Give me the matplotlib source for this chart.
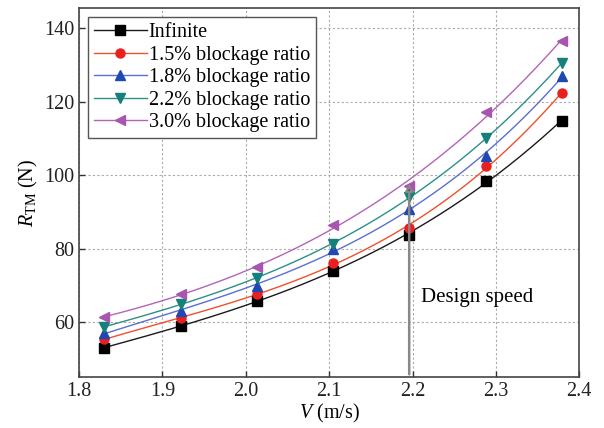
import numpy as np
import matplotlib.pyplot as plt

plt.rcParams['font.family'] = ['Liberation Serif', 'DejaVu Serif']
plt.rcParams['mathtext.fontset'] = 'custom'
plt.rcParams['mathtext.rm'] = 'Liberation Serif'
plt.rcParams['mathtext.it'] = 'Liberation Serif:italic'

# towing speed (m/s) and total resistance RTM (N)
speed = [1.830, 1.922, 2.013, 2.105, 2.196, 2.288, 2.379]
r_infinite = [53.0, 58.8, 65.8, 74.0, 83.6, 98.5, 114.8]
r_15 = [55.3, 61.0, 67.7, 76.0, 85.5, 102.6, 122.3]
r_18 = [57.0, 63.0, 69.8, 80.0, 90.9, 105.2, 127.0]
r_22 = [58.6, 65.0, 72.0, 81.3, 94.0, 110.0, 130.5]
r_30 = [61.3, 67.6, 75.0, 86.3, 97.0, 117.3, 136.5]

labels = ['Infinite', '1.5% blockage ratio', '1.8% blockage ratio',
          '2.2% blockage ratio', '3.0% blockage ratio']
series = [r_infinite, r_15, r_18, r_22, r_30]
line_cols = ['#1a1a1a', '#f0502a', '#5a6fd0', '#2a9088', '#b464b8']
mark_cols = ['#000000', '#e82020', '#1f48b0', '#15807a', '#a855b0']
markers = ['s', 'o', '^', 'v', '<']

design_speed = 2.196

fig = plt.figure(figsize=(6.04, 4.28), dpi=100)
ax = fig.add_axes([0.131, 0.119, 0.828, 0.862])

x = np.array(speed)
xs = np.linspace(x.min(), x.max(), 200)
for vals, lab, lc, mc, m in zip(series, labels, line_cols, mark_cols, markers):
    # smooth fitted curve through the measured points
    coef = np.polyfit(x, vals, 3)
    ax.plot(xs, np.polyval(coef, xs), color=lc, lw=1.0, zorder=2)
    ax.plot(x, vals, linestyle='none', marker=m, color=mc, ms=6.5, zorder=3)
    ax.plot([], [], color=lc, lw=1.0, marker=m, mfc=mc, mec=mc, ms=6.5, label=lab)

# design speed marker line
ax.annotate('', xy=(design_speed, r_30[4] + 1.5), xytext=(design_speed, 45),
            arrowprops=dict(arrowstyle='-|>', color='#888888', lw=1.8,
                            mutation_scale=10, fc='black', ec='#888888'),
            zorder=4)
ax.text(2.21, 66.8, 'Design speed', fontsize=15, va='center', ha='left')

ax.set_xlim(1.8, 2.4)
ax.set_ylim(45, 145.5)
ax.set_xticks([1.8, 1.9, 2.0, 2.1, 2.2, 2.3, 2.4])
ax.set_xticklabels(['1.8', '1.9', '2.0', '2.1', '2.2', '2.3', '2.4'])
ax.set_yticks([60, 80, 100, 120, 140])
ax.grid(True, linestyle=(0, (2, 2)), color='#aaaaaa', lw=0.8)
ax.set_axisbelow(True)
ax.tick_params(direction='in', labelsize=14.5, length=4, width=1, colors='#333333')
ax.tick_params(labelcolor='#222222')
for sp in ax.spines.values():
    sp.set_color('#444444')
    sp.set_linewidth(1.2)

ax.set_xlabel(r'$\it{V}$ (m/s)', fontsize=14.5, labelpad=1)
ax.set_ylabel(r'$\it{R}_{\rm TM}$ (N)', fontsize=14.5, labelpad=3)

leg = ax.legend(loc='upper left', fontsize=14.5, handlelength=2.6, handletextpad=0.1,
                labelspacing=0.17, borderpad=0.3, fancybox=False, framealpha=1,
                edgecolor='#555555', borderaxespad=0.45)
leg.get_frame().set_linewidth(1.0)

fig.savefig('out.png', dpi=100)
